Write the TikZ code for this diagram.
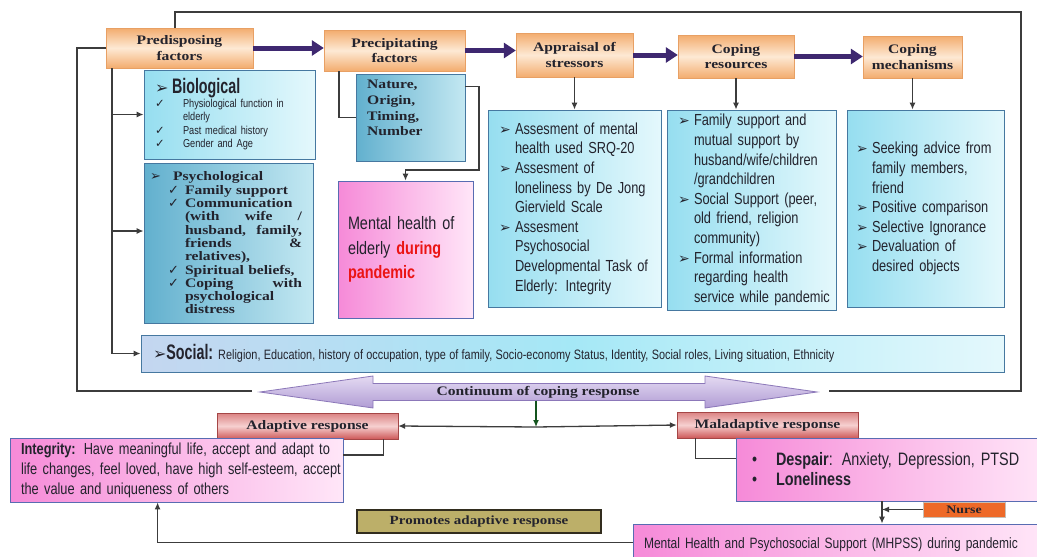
\documentclass[tikz,border=0pt]{standalone}
\usepackage{fontspec}
\setmainfont{Liberation Serif}
\newfontfamily\wideserif[FakeStretch=1.2]{Liberation Serif}
\newfontfamily\narrowsans[FakeStretch=0.8]{Liberation Sans}
\newfontfamily\headsans[FakeStretch=0.68]{Liberation Sans}
\newfontfamily\symfont{DejaVu Sans}
\usetikzlibrary{arrows.meta,positioning,calc}
\definecolor{ttlOr}{RGB}{243,172,110}
\definecolor{ttlLt}{RGB}{253,233,212}
\definecolor{ttlB}{RGB}{232,160,100}
\definecolor{cyD}{RGB}{150,222,240}
\definecolor{cyL}{RGB}{228,248,252}
\definecolor{tealD}{RGB}{98,176,206}
\definecolor{tealL}{RGB}{195,232,242}
\definecolor{boxB}{RGB}{70,120,160}
\definecolor{pinkD}{RGB}{246,138,216}
\definecolor{pinkL}{RGB}{255,230,248}
\definecolor{pinkB}{RGB}{88,108,178}
\definecolor{respR}{RGB}{206,88,88}
\definecolor{respL}{RGB}{246,208,208}
\definecolor{flowP}{RGB}{62,40,112}
\definecolor{contT}{RGB}{228,218,242}
\definecolor{contD}{RGB}{176,156,212}
\definecolor{contB}{RGB}{140,120,185}
\definecolor{socL}{RGB}{196,214,240}
\definecolor{socM}{RGB}{165,232,246}
\definecolor{promO}{RGB}{188,175,105}
\definecolor{promB}{RGB}{50,45,30}
\definecolor{nurseO}{RGB}{238,105,40}
\definecolor{nurseB}{RGB}{200,190,180}
\definecolor{lineG}{RGB}{60,60,60}
\definecolor{darkG}{RGB}{20,85,30}
\definecolor{redT}{RGB}{235,20,20}
\definecolor{txtD}{RGB}{35,35,45}
\newcommand\arrsym{{\symfont ➢}}
\newcommand\chk{{\symfont ✓}}
\newcommand\lsti[1]{\mbox{\makebox[16pt][l]{\fontsize{14}{14}\selectfont\arrsym}#1}}
\newcommand\lstc[1]{\mbox{\hspace*{16pt}#1}}

\begin{document}
\begin{tikzpicture}[x=1pt, y=-1pt, >={Latex[length=7pt,width=6pt]},
  ttl/.style={draw=ttlB, top color=ttlOr, bottom color=ttlOr, middle color=ttlLt, text=txtD,
              align=center, inner sep=0pt, font=\wideserif\bfseries\fontsize{13}{15.5}\selectfont},
  lst/.style={draw=boxB, thick, left color=cyD, right color=cyL, text=txtD, align=left,
              inner xsep=11pt, inner ysep=0pt, font=\narrowsans\fontsize{16}{19.6}\selectfont},
  tealbox/.style={draw=boxB, thick, left color=tealD, right color=tealL, text=txtD,
              align=left, inner ysep=0pt},
  pinkbox/.style={draw=pinkB, thick, left color=pinkD, right color=pinkL, text=txtD,
              align=left, inner ysep=0pt, font=\narrowsans\fontsize{16}{20}\selectfont},
  resp/.style={draw=respR!80!black, top color=respR!75, bottom color=respR, middle color=respL,
              text=txtD, inner sep=0pt, font=\wideserif\bfseries\fontsize{13}{15}\selectfont},
  flow/.style={-{Triangle[length=12pt,width=15pt]}, line width=5pt, flowP},
  ln/.style={draw=lineG, line width=1.3pt}]
  \useasboundingbox[fill=white] (0,0) rectangle (1037,557);

  \node[ttl, minimum width=147, minimum height=40] (pre) at (179.5,48) {Predisposing\\factors};
  \node[ttl, minimum width=141, minimum height=41] (prec) at (394.5,50.5) {Precipitating\\factors};
  \node[ttl, minimum width=117, minimum height=44] (appr) at (574.5,55) {Appraisal of\\stressors};
  \node[ttl, minimum width=116, minimum height=43] (cres) at (736,56.5) {Coping\\resources};
  \node[ttl, minimum width=99, minimum height=42] (cmech) at (912.5,57) {Coping\\mechanisms};

  \node[lst, minimum width=171, minimum height=89, text width=149,
        font=\narrowsans\fontsize{11.5}{13.5}\selectfont] (bio) at (229.5,114.5)
    {\mbox{\makebox[17pt][l]{\fontsize{16}{16}\selectfont\arrsym}{\headsans\bfseries\fontsize{21}{22}\selectfont Biological}}\\
     \makebox[28pt][l]{\chk}Physiological function in\\
     \hspace*{28pt}elderly\\
     \makebox[28pt][l]{\chk}Past medical history\\
     \makebox[28pt][l]{\chk}Gender and Age};
  \node[tealbox, minimum width=169, minimum height=160, inner xsep=6pt, text width=157,
        font=\wideserif\bfseries\fontsize{13}{13.3}\selectfont] (psy) at (228.5,243)
    {\makebox[23pt][l]{\arrsym}Psychological\\
     \hspace*{18pt}\makebox[17pt][l]{\chk}Family support\\
     \hspace*{18pt}\makebox[17pt][l]{\chk}Communication\\
     \hspace*{35pt}\makebox[117pt][s]{(with\hfill wife\hfill /}\\
     \hspace*{35pt}\makebox[117pt][s]{husband,\hfill family,}\\
     \hspace*{35pt}\makebox[117pt][s]{friends\hfill \&}\\
     \hspace*{35pt}relatives),\\
     \hspace*{18pt}\makebox[17pt][l]{\chk}Spiritual beliefs,\\
     \hspace*{18pt}\makebox[17pt][l]{\chk}\makebox[117pt][s]{Coping\hfill with}\\
     \hspace*{35pt}psychological\\
     \hspace*{35pt}distress};
  \node[tealbox, minimum width=109, minimum height=87] (nat) at (410.5,117.5) {};
  \node[anchor=north west, align=left, inner sep=0pt, text=txtD,
        font=\wideserif\bfseries\fontsize{13}{15.7}\selectfont] (natx) at (367,80)
    {Nature,\\Origin,\\Timing,\\Number};
  \node[pinkbox, minimum width=135, minimum height=137, text width=115, inner xsep=10pt,
        font=\narrowsans\fontsize{18}{24.5}\selectfont] (mh) at (405.5,249.5)
    {Mental health of\\elderly {\bfseries\color{redT}during}\\{\bfseries\color{redT}pandemic}};

  \node[lst, minimum width=173, minimum height=197, text width=151] (lsa) at (574.5,208.5)
    {\lsti{Assesment of mental}\\
     \lstc{health used SRQ-20}\\
     \lsti{Assesment of}\\
     \lstc{loneliness by De Jong}\\
     \lstc{Giervield Scale}\\
     \lsti{Assesment}\\
     \lstc{Psychosocial}\\
     \lstc{Developmental Task of}\\
     \lstc{Elderly: Integrity}};
  \node[lst, minimum width=169, minimum height=200, text width=147] (lcr) at (751.5,210)
    {\lsti{Family support and}\\
     \lstc{mutual support by}\\
     \lstc{husband/wife/children}\\
     \lstc{/grandchildren}\\
     \lsti{Social Support (peer,}\\
     \lstc{old friend, religion}\\
     \lstc{community)}\\
     \lsti{Formal information}\\
     \lstc{regarding health}\\
     \lstc{service while pandemic}};
  \node[lst, minimum width=157, minimum height=197, text width=139, inner xsep=9pt] (lcm) at (925.5,208.5)
    {\lsti{Seeking advice from}\\
     \lstc{family members,}\\
     \lstc{friend}\\
     \lsti{Positive comparison}\\
     \lsti{Selective Ignorance}\\
     \lsti{Devaluation of}\\
     \lstc{desired objects}};

  \node[draw=boxB, thick, left color=socL, right color=cyL, middle color=socM, text=txtD,
        align=left, minimum width=863, minimum height=37, text width=839, inner xsep=12pt,
        inner ysep=0pt] (soc) at (572.5,353.5)
    {\mbox{{\fontsize{16}{16}\selectfont\arrsym}{\headsans\bfseries\fontsize{21}{22}\selectfont Social:}
     {\narrowsans\fontsize{13.6}{15}\selectfont Religion, Education, history of occupation, type of family, Socio-economy Status, Identity, Social roles, Living situation, Ethnicity}}};

  \path[draw=contB, thick, top color=contT, bottom color=contD]
    (260,392) -- (373,376) -- (373,383.5) -- (705,383.5) -- (705,376) -- (817,392)
    -- (705,408) -- (705,400.5) -- (373,400.5) -- (373,408) -- cycle;
  \node[inner sep=0pt, minimum height=17, text=txtD,
        font=\wideserif\bfseries\fontsize{13}{15}\selectfont] (cont) at (538,392) {Continuum of coping response};

  \node[resp, minimum width=181, minimum height=26] (ada) at (307.5,426) {Adaptive response};
  \node[resp, minimum width=181, minimum height=26] (mal) at (767.5,425) {Maladaptive response};
  \node[pinkbox, minimum width=333, minimum height=64, text width=311, inner xsep=11pt] (integ) at (176.5,470)
    {\mbox{{\bfseries Integrity:} Have meaningful life, accept and adapt to}\\
     \mbox{life changes, feel loved, have high self-esteem, accept}\\
     \mbox{the value and uniqueness of others}};
  \node[pinkbox, minimum width=309, minimum height=63, text width=277, inner xsep=16pt,
        font=\narrowsans\fontsize{18}{20}\selectfont] (desp) at (890.5,469.5)
    {\makebox[24pt][l]{•}{\bfseries Despair}: Anxiety, Depression, PTSD\\
     \makebox[24pt][l]{•}{\bfseries Loneliness}};
  \node[draw=nurseB, fill=nurseO, minimum width=82, minimum height=15, inner sep=0pt, text=txtD,
        font=\wideserif\bfseries\fontsize{11.5}{12}\selectfont] (nurse) at (964,509.5) {Nurse};
  \node[draw=promB, line width=1.2pt, fill=promO, minimum width=244, minimum height=23, inner sep=0pt,
        text=txtD, font=\wideserif\bfseries\fontsize{12.5}{14}\selectfont] (prom) at (479,521.5) {Promotes adaptive response};
  \node[pinkbox, minimum width=412, minimum height=41, text width=390, inner xsep=11pt,
        font=\narrowsans\fontsize{15}{18}\selectfont] (mhpss) at (839,544.5)
    {Mental Health and Psychosocial Support (MHPSS) during pandemic};

  \draw[flow] (pre.east) -- (pre.east -| prec.west);
  \draw[flow] (prec.east) -- (prec.east -| appr.west);
  \draw[flow] (appr.east) -- (appr.east -| cres.west);
  \draw[flow] (cres.east) -- (cres.east -| cmech.west);

  \coordinate (fTL) at (175,12);
  \coordinate (fTR) at (1021,12);
  \coordinate (fBR) at (1021,391);
  \coordinate (fEnd) at (829,391);
  \coordinate (fL) at (77,391);
  \coordinate (fLend) at (252,391);
  \draw[ln] (pre.north -| fTL) -- (fTL) -- (fTR) -- (fBR) -- (fEnd);
  \draw[ln] (pre.west) -| (fL) -- (fLend);

  \coordinate (spn) at (112,0);
  \draw[ln,->] (pre.south -| spn) |- (soc.west);
  \draw[ln,->] (bio.west -| spn) -- (bio.west);
  \draw[ln,->] ($(psy.west -| spn)+(0,-12)$) -- ($(psy.west)+(0,-12)$);

  \coordinate (pn) at (339,0);
  \coordinate (nm) at (479,170);
  \draw[ln] (prec.south -| pn) |- (nat.west);
  \draw[ln,->] ($(nat.north east)+(0,13)$) -| (nm) -| (mh.north);

  \draw[ln,->] (appr.south) -- (lsa.north);
  \draw[ln,->] (cres.south) -- (cres.south |- lcr.north);
  \draw[ln,->] (cmech.south) -- (cmech.south |- lcm.north);

  \coordinate (split) at (536,427);
  \draw[->, darkG, line width=1.3pt] (cont.south -| split) -- (split);
  \draw[ln,->] (split) -- (ada.east);
  \draw[ln,->] (split) -- (mal.west);
  \draw[ln] ($(ada.south east)+(-15,0)$) |- ($(integ.east)+(0,-15)$);
  \draw[ln] ($(mal.south west)+(19,0)$) |- ($(desp.west)+(0,-11)$);

  \coordinate (vx) at (882,0);
  \draw[ln,->] (nurse.west) -- (nurse.west -| vx);
  \draw[ln,->] (desp.south -| vx) -- (mhpss.north -| vx);
  \draw[ln,->] ($(mhpss.west)+(0,-2)$) -| ($(integ.south west)+(148,0)$);
\end{tikzpicture}
\end{document}
